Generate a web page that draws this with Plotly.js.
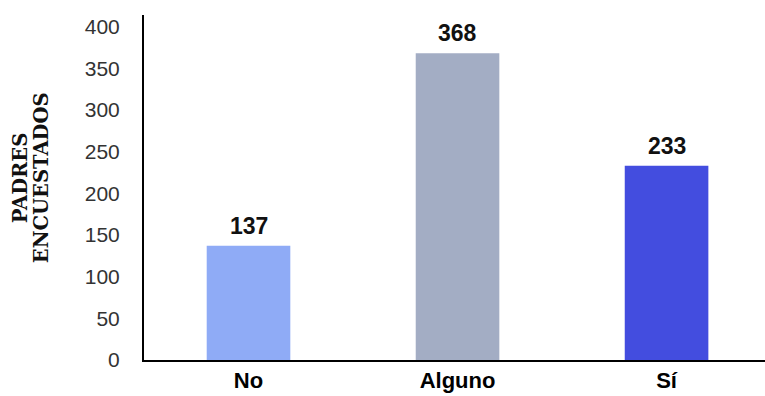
<!DOCTYPE html>
<html><head><meta charset="utf-8">
<script src="https://cdn.plot.ly/plotly-3.0.1.min.js"></script>
<style>html,body{margin:0;padding:0;background:#fff}#c{width:765px;height:396px}</style>
</head><body><div id="c"></div>
<script>
const categories = ['No', 'Alguno', 'Sí'];
const values = [137, 368, 233];
const barColors = ['#8fabf6', '#a3adc4', '#434ddf'];
const yTicks = [0, 50, 100, 150, 200, 250, 300, 350, 400];
const yTitleLines = ['PADRES', 'ENCUESTADOS'];

const sans = 'Liberation Sans, Arial, sans-serif';
const trace = {
  type: 'bar', x: categories, y: values,
  marker: {color: barColors}, hoverinfo: 'none'
};
const labelAnns = categories.map((c, i) => ({
  x: c, y: values[i], xref: 'x', yref: 'y', text: String(values[i]),
  showarrow: false, yanchor: 'bottom', yshift: 5,
  font: {family: sans, size: 23, color: '#111', weight: 'bold'}
}));
const titleX = [20, 41];
const titleAnns = yTitleLines.map((t, i) => ({
  xref: 'paper', yref: 'paper', x: (titleX[i] - 144) / 621, y: 0.527,
  text: '<b>' + t + '</b>', textangle: -90, showarrow: false,
  xanchor: 'center', yanchor: 'middle',
  font: {family: 'DejaVu Serif, Liberation Serif, serif', size: 19.5, color: '#111'}
}));
const layout = {
  width: 765, height: 396,
  margin: {l: 144, r: 0, t: 15, b: 36},
  paper_bgcolor: '#fff', plot_bgcolor: '#fff',
  bargap: 0.6, showlegend: false,
  xaxis: {
    range: [-0.5, 2.471], showline: true, linecolor: '#000', linewidth: 2,
    showgrid: false, zeroline: false, ticks: '',
    tickfont: {family: sans, size: 22, color: '#000', weight: 'bold'},
    fixedrange: true
  },
  yaxis: {
    range: [0, 414], tickvals: yTicks, showline: true, linecolor: '#000', linewidth: 2,
    showgrid: false, zeroline: false, ticks: '', ticklabelstandoff: 18,
    tickfont: {family: sans, size: 21, color: '#333'},
    fixedrange: true
  },
  annotations: labelAnns.concat(titleAnns)
};
Plotly.newPlot('c', [trace], layout, {displayModeBar: false, staticPlot: true});
</script></body></html>
